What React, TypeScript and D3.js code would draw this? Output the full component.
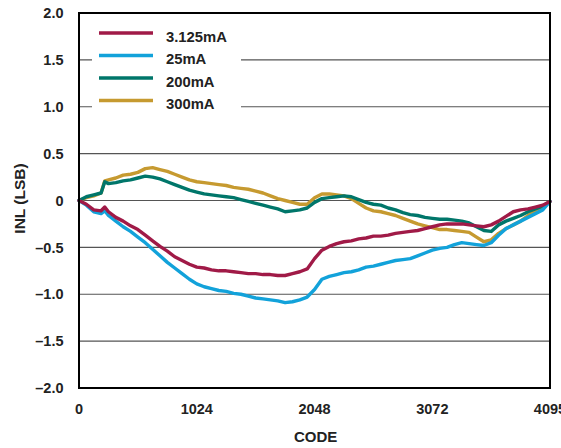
import React from "react";
import * as d3 from "d3";

const CODES = [0, 64, 128, 192, 224, 256, 320, 384, 448, 512, 576, 640, 704, 768, 832, 896, 960, 1024, 1088, 1152, 1216, 1280, 1344, 1408, 1472, 1536, 1600, 1664, 1728, 1792, 1856, 1920, 1984, 2048, 2112, 2176, 2240, 2304, 2368, 2432, 2496, 2560, 2624, 2688, 2752, 2816, 2880, 2944, 3008, 3072, 3136, 3200, 3264, 3328, 3392, 3456, 3520, 3584, 3648, 3712, 3776, 3840, 3904, 3968, 4032, 4095];

const RED_3125 = [0, -0.04, -0.10, -0.11, -0.07, -0.12, -0.18, -0.22, -0.27, -0.31, -0.37, -0.43, -0.49, -0.54, -0.60, -0.64, -0.68, -0.71, -0.72, -0.74, -0.75, -0.75, -0.76, -0.77, -0.78, -0.78, -0.79, -0.79, -0.80, -0.80, -0.78, -0.76, -0.73, -0.62, -0.53, -0.49, -0.46, -0.44, -0.43, -0.41, -0.40, -0.38, -0.38, -0.37, -0.35, -0.34, -0.33, -0.32, -0.30, -0.28, -0.26, -0.25, -0.25, -0.25, -0.26, -0.27, -0.28, -0.26, -0.22, -0.17, -0.12, -0.10, -0.09, -0.07, -0.05, -0.01];
const BLUE_25 = [0, -0.05, -0.12, -0.14, -0.11, -0.16, -0.22, -0.28, -0.33, -0.39, -0.45, -0.52, -0.59, -0.66, -0.72, -0.78, -0.84, -0.89, -0.92, -0.94, -0.96, -0.97, -0.99, -1.00, -1.02, -1.04, -1.05, -1.06, -1.07, -1.09, -1.08, -1.06, -1.03, -0.95, -0.84, -0.81, -0.79, -0.77, -0.76, -0.74, -0.71, -0.70, -0.68, -0.66, -0.64, -0.63, -0.62, -0.59, -0.56, -0.53, -0.51, -0.50, -0.47, -0.45, -0.46, -0.47, -0.48, -0.45, -0.37, -0.30, -0.26, -0.22, -0.18, -0.14, -0.10, -0.01];
const TEAL_200 = [0, 0.04, 0.06, 0.08, 0.20, 0.18, 0.19, 0.21, 0.22, 0.24, 0.26, 0.25, 0.23, 0.20, 0.17, 0.14, 0.11, 0.09, 0.07, 0.06, 0.05, 0.04, 0.03, 0.01, -0.01, -0.03, -0.05, -0.07, -0.09, -0.12, -0.11, -0.10, -0.08, -0.02, 0.02, 0.03, 0.04, 0.05, 0.04, 0.01, -0.02, -0.04, -0.05, -0.08, -0.10, -0.13, -0.15, -0.16, -0.18, -0.19, -0.20, -0.20, -0.21, -0.22, -0.24, -0.28, -0.32, -0.33, -0.26, -0.22, -0.19, -0.16, -0.12, -0.09, -0.06, -0.01];
const GOLD_300 = [0, 0.03, 0.05, 0.08, 0.21, 0.22, 0.24, 0.27, 0.28, 0.30, 0.34, 0.35, 0.33, 0.31, 0.28, 0.25, 0.22, 0.20, 0.19, 0.18, 0.17, 0.16, 0.14, 0.13, 0.12, 0.10, 0.08, 0.05, 0.02, 0.00, -0.02, -0.04, -0.04, 0.03, 0.07, 0.07, 0.06, 0.05, 0.02, -0.03, -0.08, -0.11, -0.12, -0.14, -0.16, -0.19, -0.22, -0.25, -0.27, -0.29, -0.31, -0.31, -0.32, -0.33, -0.34, -0.39, -0.44, -0.42, -0.35, -0.30, -0.26, -0.22, -0.16, -0.11, -0.07, -0.01];

const SERIES_NAMES = ["3.125mA", "25mA", "200mA", "300mA"];
const SERIES_VALUES = [RED_3125, BLUE_25, TEAL_200, GOLD_300];
const SERIES_COLORS = ["#A01A47", "#12A2DA", "#00766A", "#C69A30"];
const DRAW_ORDER = [3, 2, 1, 0];

const X_TICKS = [0, 1024, 2048, 3072, 4095];
const Y_TICKS = [2.0, 1.5, 1.0, 0.5, 0, -0.5, -1.0, -1.5, -2.0];
const X_TITLE = "CODE";
const Y_TITLE = "INL (LSB)";

const fmtY = (v: number) => {
  if (v === 0) return "0";
  const s = Math.abs(v).toFixed(1);
  return v < 0 ? "\u2013" + s : s;
};

export default function App() {
  const W = 561, H = 448;
  const left = 79, right = 550, top = 13, bottom = 388;
  const x = d3.scaleLinear().domain([0, 4095]).range([left, right]);
  const y = d3.scaleLinear().domain([-2, 2]).range([bottom, top]);
  const line = d3.line<number>().x((_, i) => x(CODES[i])).y((d) => y(d));
  const font = "'Liberation Sans', Arial, sans-serif";

  const legX = 99, legLen = 54, legY0 = 33, legDy = 22.5;

  return (
    <svg width={W} height={H} style={{ position: "absolute", left: 0, top: 0 }} fontFamily={font}>
      <rect x={0} y={0} width={W} height={H} fill="#fff" />
      {Y_TICKS.filter((t) => t !== 2 && t !== -2).map((t) => (
        <line key={t} x1={left} x2={right} y1={y(t)} y2={y(t)} stroke="#555" strokeWidth={1.2} />
      ))}
      <rect x={92} y={18} width={149} height={95} fill="#fff" />
      {DRAW_ORDER.map((si) => (
        <path key={si} d={line(SERIES_VALUES[si]) || ""} fill="none" stroke={SERIES_COLORS[si]} strokeWidth={3.4} strokeLinejoin="round" strokeLinecap="round" />
      ))}
      <rect x={left} y={top} width={right - left} height={bottom - top} fill="none" stroke="#000" strokeWidth={2} />
      {Y_TICKS.map((t) => (
        <text key={t} x={63.5} y={y(t)} dy="0.36em" textAnchor="end" fontSize={14.5} fontWeight="bold" fill="#222">{fmtY(t)}</text>
      ))}
      {X_TICKS.map((t) => (
        <text key={t} x={x(t)} y={413.5} textAnchor="middle" fontSize={14.5} fontWeight="bold" fill="#222">{t}</text>
      ))}
      <text x={x(2048) + 1} y={442} textAnchor="middle" fontSize={15} fontWeight="bold" fill="#222">{X_TITLE}</text>
      <text transform={`translate(24.5,${y(0) - 2}) rotate(-90)`} textAnchor="middle" fontSize={15.5} fontWeight="bold" fill="#222">{Y_TITLE}</text>
      {SERIES_NAMES.map((n, i) => (
        <g key={n}>
          <line x1={legX} x2={legX + legLen} y1={legY0 + i * legDy} y2={legY0 + i * legDy} stroke={SERIES_COLORS[i]} strokeWidth={3.4} />
          <text x={166} y={legY0 + i * legDy + 8.5} fontSize={14.8} fontWeight="bold" fill="#222">{n}</text>
        </g>
      ))}
    </svg>
  );
}
